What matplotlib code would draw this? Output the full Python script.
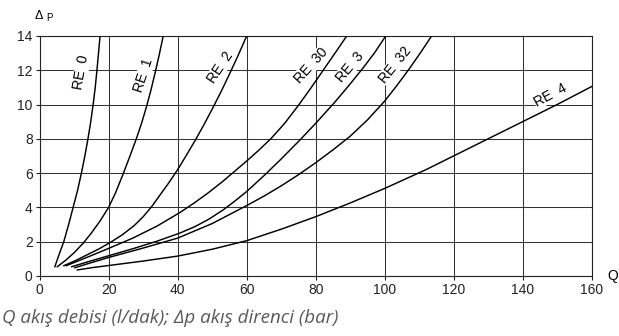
import matplotlib.pyplot as plt

plt.rcParams['font.family'] = ['Liberation Sans', 'DejaVu Sans']

# values: flow Q (l/dak) and pressure drop dP (bar)
q_re0 = [4.4, 5.2, 7.0, 8.4, 9.7, 11.0, 12.1, 13.1, 14.0, 14.8, 15.5, 16.1, 16.6, 17.05, 17.5]
p_re0 = [0.53, 1.0, 2.0, 3.0, 4.0, 5.0, 6.0, 7.0, 8.0, 9.0, 10.0, 11.0, 12.0, 13.0, 14.0]

q_re1 = [5.1, 7.5, 10.0, 12.6, 15.0, 17.5, 20.0, 22.0, 24.2, 26.0, 28.1, 29.6, 31.0, 32.2, 33.4, 34.6, 35.8]
p_re1 = [0.53, 0.9, 1.35, 1.9, 2.5, 3.2, 4.0, 4.85, 5.95, 6.9, 8.05, 8.95, 9.9, 10.8, 11.8, 12.85, 14.0]

q_re2 = [7.0, 10.0, 13.5, 17.0, 20.5, 24.0, 27.5, 30.0, 32.5, 35.0, 37.5, 40.0, 42.5, 45.0,
         47.5, 50.0, 52.5, 55.0, 57.5, 60.0]
p_re2 = [0.59, 0.85, 1.2, 1.55, 1.95, 2.4, 2.95, 3.45, 4.05, 4.75, 5.45, 6.2, 7.03, 7.88,
         8.78, 9.73, 10.72, 11.77, 12.86, 14.0]

q_re30 = [7.7, 14.0, 20.0, 27.0, 34.0, 40.7, 45.0, 48.9, 53.0, 56.5, 60.0, 63.5, 67.0, 71.0,
          75.0, 78.5, 82.0, 85.5, 89.0]
p_re30 = [0.59, 1.1, 1.6, 2.2, 2.9, 3.7, 4.28, 4.85, 5.5, 6.1, 6.7, 7.33, 8.0, 8.9,
          9.95, 10.93, 11.95, 12.97, 14.0]

q_re3 = [9.3, 14.0, 20.0, 27.0, 34.0, 40.7, 45.0, 49.0, 53.2, 56.5, 60.0, 65.3, 70.0, 75.4,
         80.0, 85.6, 89.5, 93.6, 97.0, 100.3]
p_re3 = [0.53, 0.82, 1.17, 1.58, 2.02, 2.5, 2.87, 3.3, 3.85, 4.35, 4.92, 5.9, 6.82, 7.92,
         8.9, 10.15, 11.08, 12.1, 13.0, 14.0]

q_re32 = [10.2, 15.0, 20.0, 30.0, 40.0, 50.0, 60.0, 65.0, 70.0, 75.0, 80.0, 85.0, 90.0, 95.0,
          100.0, 103.5, 107.0, 110.3, 113.6]
p_re32 = [0.47, 0.77, 1.07, 1.62, 2.2, 3.05, 4.1, 4.65, 5.25, 5.9, 6.6, 7.35, 8.15, 9.1,
          10.2, 11.1, 12.05, 13.0, 14.0]

q_re4 = [10.9, 15.0, 20.0, 30.0, 40.0, 50.0, 60.0, 70.0, 80.0, 90.0, 100.0, 112.0, 120.0,
         130.0, 140.0, 150.0, 160.0]
p_re4 = [0.34, 0.47, 0.6, 0.86, 1.15, 1.55, 2.05, 2.72, 3.45, 4.25, 5.1, 6.2, 7.0,
         8.0, 9.0, 10.0, 11.05]

labels = ["RE  0", "RE  1", "RE  2", "RE  30", "RE  3", "RE  32", "RE  4"]
label_q = [12.0, 30.0, 52.5, 78.7, 90.0, 103.0, 148.0]
label_p = [11.9, 11.7, 12.2, 12.3, 12.2, 12.3, 10.55]
label_rot = [80, 72, 56, 48, 50, 51, 28]

fig = plt.figure(figsize=(6.19, 3.36), dpi=100)
ax = fig.add_axes([0.0641, 0.1792, 0.8918, 0.7137])

for q, p in [(q_re0, p_re0), (q_re1, p_re1), (q_re2, p_re2), (q_re30, p_re30),
             (q_re3, p_re3), (q_re32, p_re32), (q_re4, p_re4)]:
    ax.plot(q, p, color='black', lw=1.05, zorder=3)

for t, x, y, r in zip(labels, label_q, label_p, label_rot):
    ax.text(x, y, t, rotation=r, ha='center', va='center', fontsize=10,
            rotation_mode='anchor', zorder=4,
            bbox=dict(facecolor='white', edgecolor='none', pad=0.3))

ax.set_xlim(0, 160)
ax.set_ylim(0, 14)
ax.set_xticks(range(0, 161, 20))
ax.set_yticks(range(0, 15, 2))
ax.grid(True, color='#333333', lw=0.75)
ax.set_axisbelow(True)
for s in ax.spines.values():
    s.set_linewidth(0.8)
    s.set_color('#222222')
ax.tick_params(direction='out', length=3, width=0.8, labelsize=10, pad=2,
               colors='#222222')

fig.text(35 / 619, 1 - 19 / 336, "Δ", fontsize=9, va='baseline')
fig.text(46 / 619, 1 - 21 / 336, "P", fontsize=7, va='baseline')
fig.text(613 / 619, 1 - 276 / 336, "Q", fontsize=10, ha='center', va='center')

fig.text(2 / 619, 1 - 318 / 336, "Q akış debisi (l/dak); Δp akış direnci (bar)",
         fontsize=13.5, style='italic', color='#58595b', family='Open Sans',
         va='center')

plt.savefig('out.png', dpi=100)
